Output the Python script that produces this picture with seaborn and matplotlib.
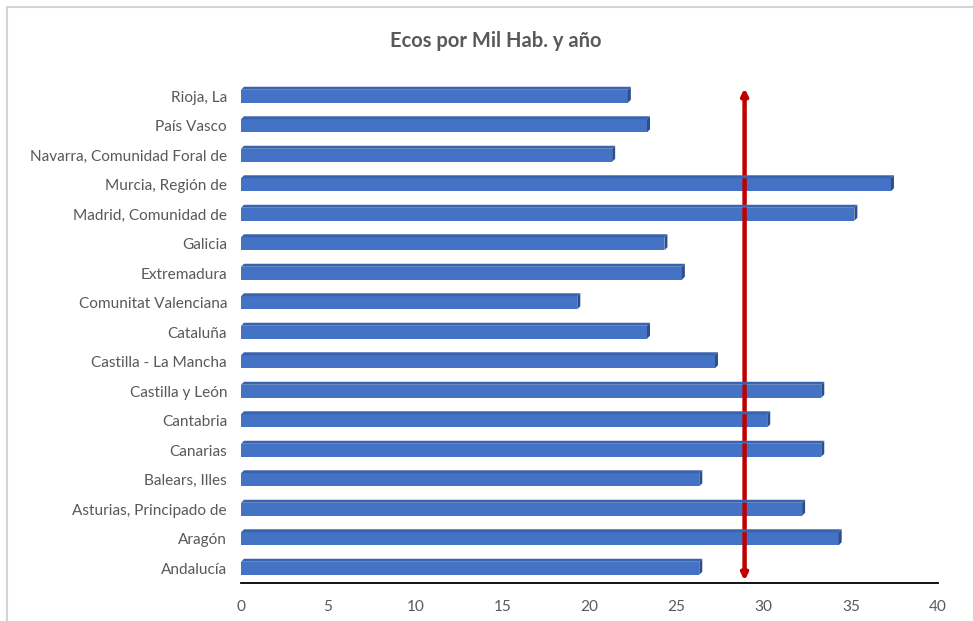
import numpy as np
import pandas as pd
import matplotlib
matplotlib.use("Agg")
from matplotlib import pyplot as plt
from matplotlib.patches import Polygon, Rectangle
import seaborn as sns

# datos (de arriba a abajo)
regiones = ["Rioja, La", "País Vasco", "Navarra, Comunidad Foral de", "Murcia, Región de",
            "Madrid, Comunidad de", "Galicia", "Extremadura", "Comunitat Valenciana",
            "Cataluña", "Castilla - La Mancha", "Castilla y León", "Cantabria",
            "Canarias", "Balears, Illes", "Asturias, Principado de", "Aragón", "Andalucía"]
ecos = [22.2, 23.3, 21.3, 37.3, 35.2, 24.3, 25.3, 19.3, 23.3, 27.2,
        33.3, 30.2, 33.3, 26.3, 32.2, 34.3, 26.3]
referencia = 28.9
xticks = [0, 5, 10, 15, 20, 25, 30, 35, 40]
titulo = "Ecos por Mil Hab. y año"

df = pd.DataFrame({"region": regiones, "ecos": ecos})

sns.set_style("white")
plt.rcParams['font.family'] = ['Lato', 'DejaVu Sans']

fig = plt.figure(figsize=(9.73, 6.21), dpi=100)
ax = fig.add_axes([241/973, 1-583/621, (938-241)/973, (583-81.5)/621])

sns.barplot(data=df, x="ecos", y="region", orient="y", color="#4472C4",
            saturation=1, width=0.44, linewidth=0, edgecolor="none", ax=ax)

ax.set_xlim(0, 40)
ax.set_ylim(16.5, -0.5)
ax.set_xticks(xticks)
ax.set_xticklabels([str(t) for t in xticks])
ax.set_xlabel("")
ax.set_ylabel("")
ax.tick_params(axis="both", length=0, labelsize=11.1, colors="#595959")
ax.tick_params(axis="y", pad=10)
ax.tick_params(axis="x", pad=12)
for s in ["top", "right", "left"]:
    ax.spines[s].set_visible(False)
ax.spines["bottom"].set_color("black")
ax.spines["bottom"].set_linewidth(1.3)

# efecto 3D: cara superior y lateral a partir de cada barra
fig.canvas.draw()
dx, dy = 3, 3
for p in list(ax.patches):
    x0, y0 = p.get_x(), p.get_y()
    x1, y1 = x0 + p.get_width(), y0 + p.get_height()
    (px0, pyt), (px1, pyb) = ax.transData.transform([(x0, y0), (x1, y1)])
    top = Polygon([(px0, pyt), (px1, pyt), (px1 + dx, pyt + dy), (px0 + dx, pyt + dy)],
                  closed=True, transform=None, facecolor="#3A63AD", edgecolor="none")
    side = Polygon([(px1, pyt), (px1 + dx, pyt + dy), (px1 + dx, pyb + dy), (px1, pyb)],
                   closed=True, transform=None, facecolor="#2C4F8C", edgecolor="none")
    fig.add_artist(top)
    fig.add_artist(side)

# linea de referencia con doble flecha
ax.annotate("", xy=(referencia, -0.27), xytext=(referencia, 16.42),
            arrowprops=dict(arrowstyle="<|-|>", color="#C00000", lw=3.2,
                            mutation_scale=9, shrinkA=0, shrinkB=0))

fig.text(496/973, 1-41/621, titulo, ha="center", va="center", fontsize=14.5,
         fontweight="bold", color="#595959")

# marco del grafico
fig.add_artist(Rectangle((7/973, -0.1), 1.2, 1.1 - 7/621, transform=fig.transFigure,
                         fill=False, edgecolor="#D4D4D4", lw=1.5))

fig.savefig("out.png", dpi=100)
